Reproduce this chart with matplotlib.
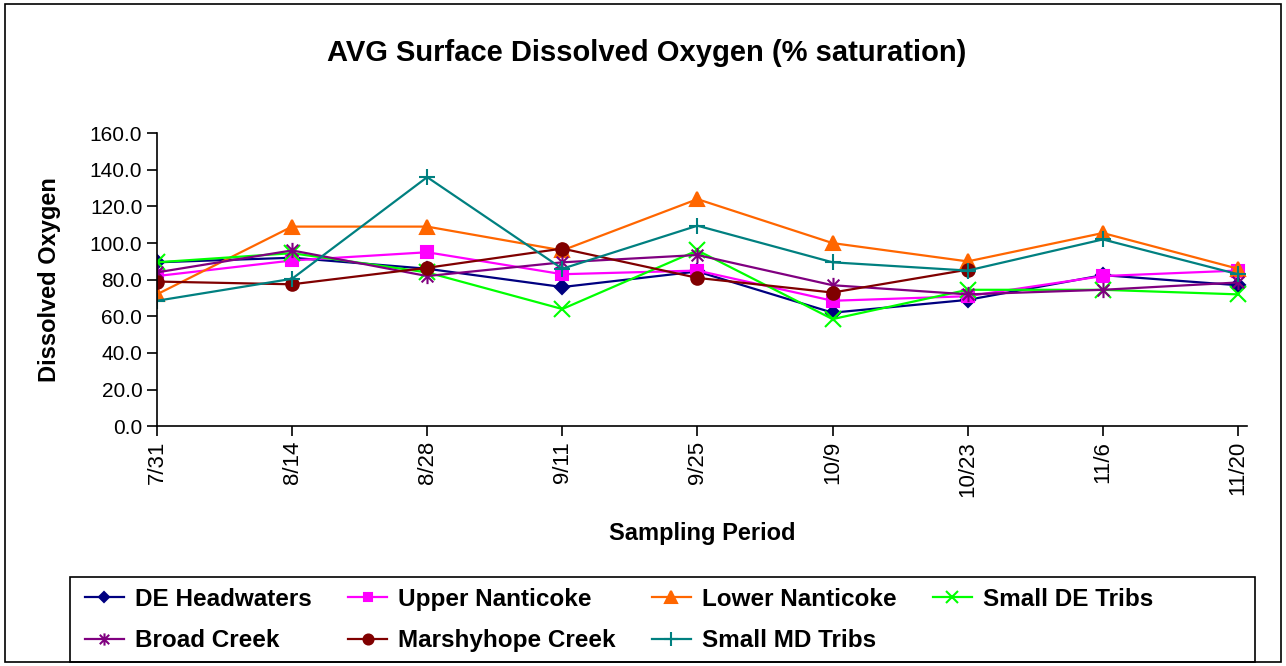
import numpy as np
import matplotlib.pyplot as plt
from matplotlib.path import Path
from matplotlib.patches import Rectangle

plt.rcParams['font.family'] = ['Liberation Sans', 'DejaVu Sans']

dates = ['7/31', '8/14', '8/28', '9/11', '9/25', '10/9', '10/23', '11/6', '11/20']

de_headwaters = [89.5, 92.0, 86.0, 76.0, 84.5, 62.0, 69.0, 82.5, 77.0]
upper_nanticoke = [82.0, 90.5, 95.0, 83.0, 85.0, 68.5, 71.0, 82.0, 85.0]
lower_nanticoke = [72.0, 109.0, 109.0, 96.0, 124.0, 100.0, 90.0, 105.5, 86.0]
small_de_tribs = [89.5, 94.5, 84.0, 64.0, 96.0, 58.5, 74.5, 74.5, 72.0]
broad_creek = [84.0, 96.0, 82.0, 89.5, 93.5, 77.0, 72.0, 74.5, 78.5]
marshyhope = [79.0, 77.5, 86.5, 97.0, 81.0, 73.0, 85.5, np.nan, np.nan]
small_md_tribs = [68.5, 80.5, 136.0, 86.0, 109.5, 89.5, 85.0, 102.0, 83.0]

# asterisk like marker: x plus vertical bar
star = Path([(-1, -1), (1, 1), (-1, 1), (1, -1), (0, -1.3), (0, 1.3)],
            [Path.MOVETO, Path.LINETO, Path.MOVETO, Path.LINETO, Path.MOVETO, Path.LINETO])

series = [
    ('DE Headwaters', de_headwaters, '#000080', 'D', 7),
    ('Upper Nanticoke', upper_nanticoke, '#FF00FF', 's', 8),
    ('Lower Nanticoke', lower_nanticoke, '#FF6600', '^', 10),
    ('Small DE Tribs', small_de_tribs, '#00FF00', 'x', 11),
    ('Broad Creek', broad_creek, '#800080', star, 11),
    ('Marshyhope Creek', marshyhope, '#800000', 'o', 9),
    ('Small MD Tribs', small_md_tribs, '#008080', '+', 12),
]

W, H = 1286, 666
fig = plt.figure(figsize=(W / 100, H / 100), dpi=100)
ax = fig.add_axes([0.122, 0.360, 0.848, 0.440])

x = np.arange(len(dates))
lines = []
for name, vals, col, mk, ms in series:
    ln, = ax.plot(x, vals, color=col, marker=mk, markersize=ms, lw=1.6,
                  markeredgewidth=1.5, label=name)
    lines.append(ln)

ax.set_xlim(0, 8.07)
ax.set_ylim(0, 160)
ax.set_yticks(np.arange(0, 161, 20))
ax.set_yticklabels(['%.1f' % v for v in np.arange(0, 161, 20)])
ax.set_xticks(x)
ax.set_xticklabels(dates, rotation=90)
ax.tick_params(axis='y', labelsize=15)
ax.tick_params(axis='x', labelsize=16)
ax.tick_params(axis='both', length=7, width=1.2, direction='out')
ax.spines['top'].set_visible(False)
ax.spines['right'].set_visible(False)
ax.spines['left'].set_linewidth(1.2)
ax.spines['bottom'].set_linewidth(1.2)

ax.set_ylabel('Dissolved Oxygen', fontsize=17, fontweight='bold', labelpad=21)
ax.set_xlabel('Sampling Period', fontsize=17, fontweight='bold', labelpad=18)
fig.text(0.503, 0.921, 'AVG Surface Dissolved Oxygen (% saturation)',
         fontsize=21, fontweight='bold', ha='center', va='center')

# legend is filled column by column, so reorder to read across rows
order = [0, 4, 1, 5, 2, 6, 3]
leg = fig.legend([lines[i] for i in order], [series[i][0] for i in order],
                 loc='center left', bbox_to_anchor=(85 / W, 1 - 620 / H, 1068 / W, 0),
                 mode='expand', ncol=4, fontsize=17.5, frameon=False,
                 handlelength=1.6, handletextpad=0.45, borderaxespad=0,
                 borderpad=0, columnspacing=1.0, labelspacing=0.75, markerscale=0.8)
for t in leg.get_texts():
    t.set_fontweight('bold')

fig.patches.append(Rectangle((70 / W, 1 - 662 / H), 1185 / W, 85 / H, transform=fig.transFigure,
                             fill=False, edgecolor='black', lw=1.2))
fig.patches.append(Rectangle((0.004, 0.006), 0.992, 0.988, transform=fig.transFigure,
                             fill=False, edgecolor='black', lw=1.2))

fig.savefig('out.png', dpi=100)
